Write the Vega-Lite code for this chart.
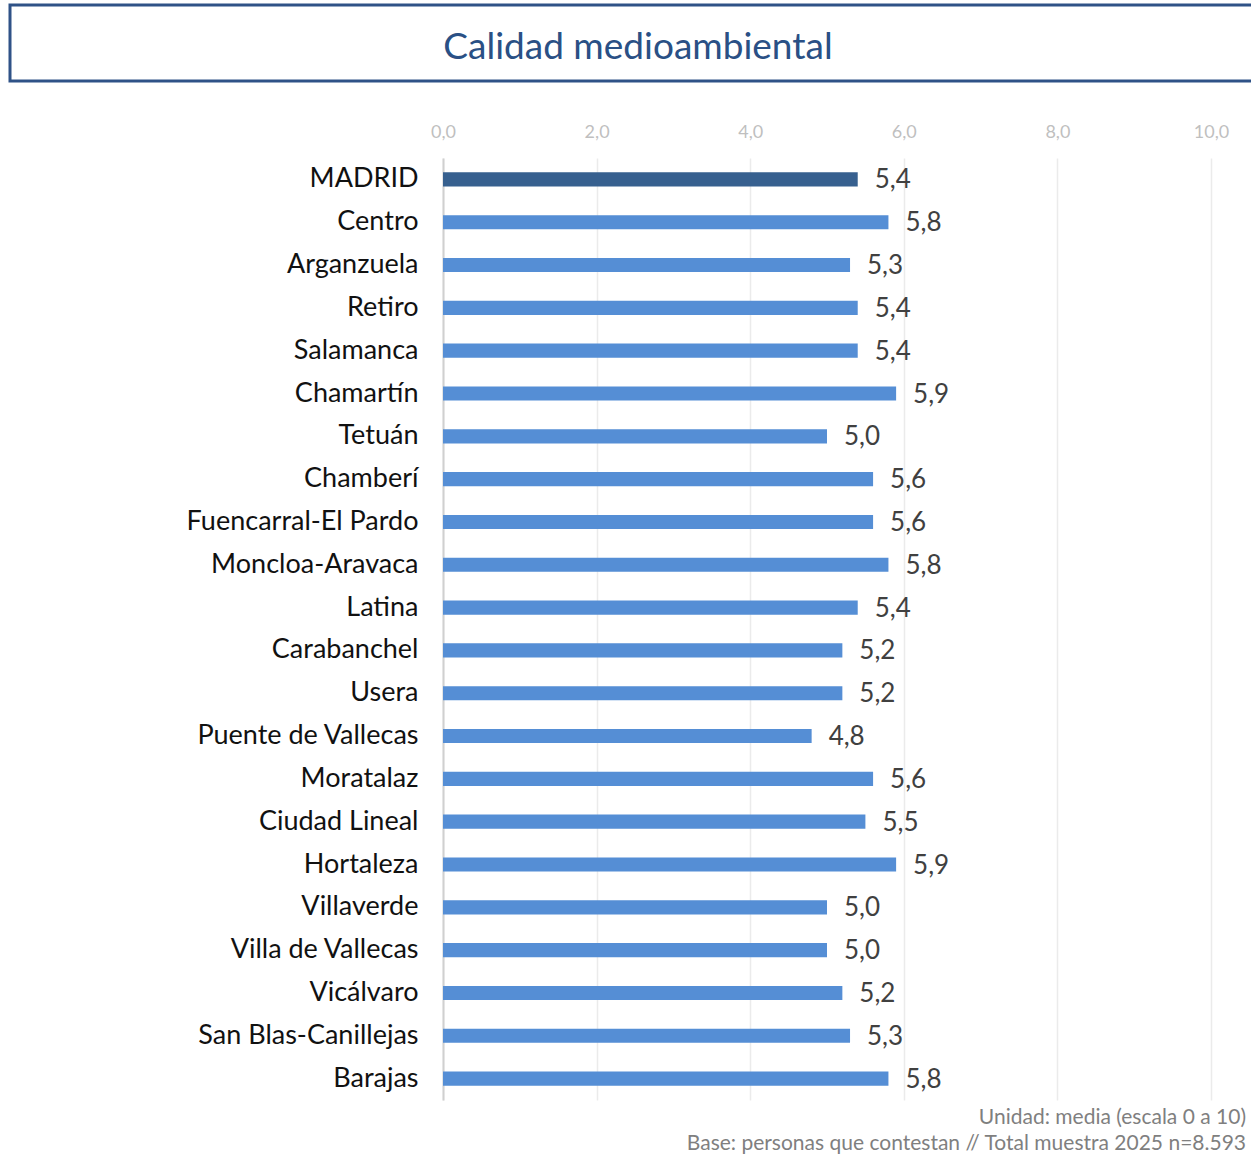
{
  "$schema": "https://vega.github.io/schema/vega-lite/v6.json",
  "padding": {"left": 8, "top": 3, "right": 0, "bottom": 0},
  "spacing": 40,
  "vconcat": [
    {
      "width": 1256,
      "height": 76,
      "data": {"values": [{"titulo": "Calidad medioambiental"}]},
      "view": {"stroke": "#2f5287", "strokeWidth": 3},
      "mark": {"type": "text", "fontSize": 37, "color": "#2a5085", "baseline": "middle", "dy": 5},
      "encoding": {"text": {"field": "titulo", "type": "nominal"}}
    },
    {
      "width": 1201,
      "height": 942,
      "title": {
        "text": ["Unidad: media (escala 0 a 10)", "Base: personas que contestan  // Total muestra 2025 n=8.593"],
        "orient": "bottom",
        "anchor": "end",
        "frame": "group",
        "fontSize": 21,
        "fontWeight": "normal",
        "color": "#7f7f7f",
        "lineHeight": 26,
        "offset": 7,
        "dx": 35
      },
      "data": {
        "values": [
          {"distrito": "MADRID", "media": 5.4, "tipo": "total"},
          {"distrito": "Centro", "media": 5.8, "tipo": "distrito"},
          {"distrito": "Arganzuela", "media": 5.3, "tipo": "distrito"},
          {"distrito": "Retiro", "media": 5.4, "tipo": "distrito"},
          {"distrito": "Salamanca", "media": 5.4, "tipo": "distrito"},
          {"distrito": "Chamartín", "media": 5.9, "tipo": "distrito"},
          {"distrito": "Tetuán", "media": 5.0, "tipo": "distrito"},
          {"distrito": "Chamberí", "media": 5.6, "tipo": "distrito"},
          {"distrito": "Fuencarral-El Pardo", "media": 5.6, "tipo": "distrito"},
          {"distrito": "Moncloa-Aravaca", "media": 5.8, "tipo": "distrito"},
          {"distrito": "Latina", "media": 5.4, "tipo": "distrito"},
          {"distrito": "Carabanchel", "media": 5.2, "tipo": "distrito"},
          {"distrito": "Usera", "media": 5.2, "tipo": "distrito"},
          {"distrito": "Puente de Vallecas", "media": 4.8, "tipo": "distrito"},
          {"distrito": "Moratalaz", "media": 5.6, "tipo": "distrito"},
          {"distrito": "Ciudad Lineal", "media": 5.5, "tipo": "distrito"},
          {"distrito": "Hortaleza", "media": 5.9, "tipo": "distrito"},
          {"distrito": "Villaverde", "media": 5.0, "tipo": "distrito"},
          {"distrito": "Villa de Vallecas", "media": 5.0, "tipo": "distrito"},
          {"distrito": "Vicálvaro", "media": 5.2, "tipo": "distrito"},
          {"distrito": "San Blas-Canillejas", "media": 5.3, "tipo": "distrito"},
          {"distrito": "Barajas", "media": 5.8, "tipo": "distrito"}
        ]
      },
      "encoding": {
        "y": {
          "field": "distrito",
          "type": "nominal",
          "sort": null,
          "scale": {"paddingInner": 0.67, "paddingOuter": 0.335},
          "axis": {
            "title": null,
            "offset": -433,
            "labelFontSize": 27,
            "labelColor": "#111111",
            "labelPadding": 25,
            "labelLimit": 400,
            "ticks": false,
            "domainColor": "#d0d0d0",
            "domainWidth": 2
          }
        },
        "x": {
          "field": "media",
          "type": "quantitative",
          "scale": {"domain": [-5.638, 10], "nice": false, "zero": false},
          "axis": {
            "orient": "top",
            "title": null,
            "values": [0, 2, 4, 6, 8, 10],
            "format": ".1f",
            "labelFontSize": 18,
            "labelColor": "#bfbfbf",
            "labelPadding": 17,
            "labelFlush": false,
            "ticks": false,
            "domain": false,
            "grid": true,
            "gridColor": "#ebebeb",
            "gridWidth": 1.5
          }
        }
      },
      "layer": [
        {
          "mark": {"type": "bar"},
          "encoding": {
            "color": {
              "field": "tipo",
              "type": "nominal",
              "scale": {"domain": ["total", "distrito"], "range": ["#37608f", "#558ed5"]},
              "legend": null
            }
          }
        },
        {
          "mark": {"type": "text", "align": "left", "baseline": "middle", "dx": 17, "dy": 1, "fontSize": 26, "color": "#404040"},
          "encoding": {
            "text": {"field": "media", "type": "quantitative", "format": ".1f"}
          }
        }
      ]
    }
  ],
  "config": {
    "font": "Lato",
    "view": {"stroke": null},
    "locale": {
      "number": {"decimal": ",", "thousands": ".", "grouping": [3], "currency": ["", " €"]}
    }
  }
}
